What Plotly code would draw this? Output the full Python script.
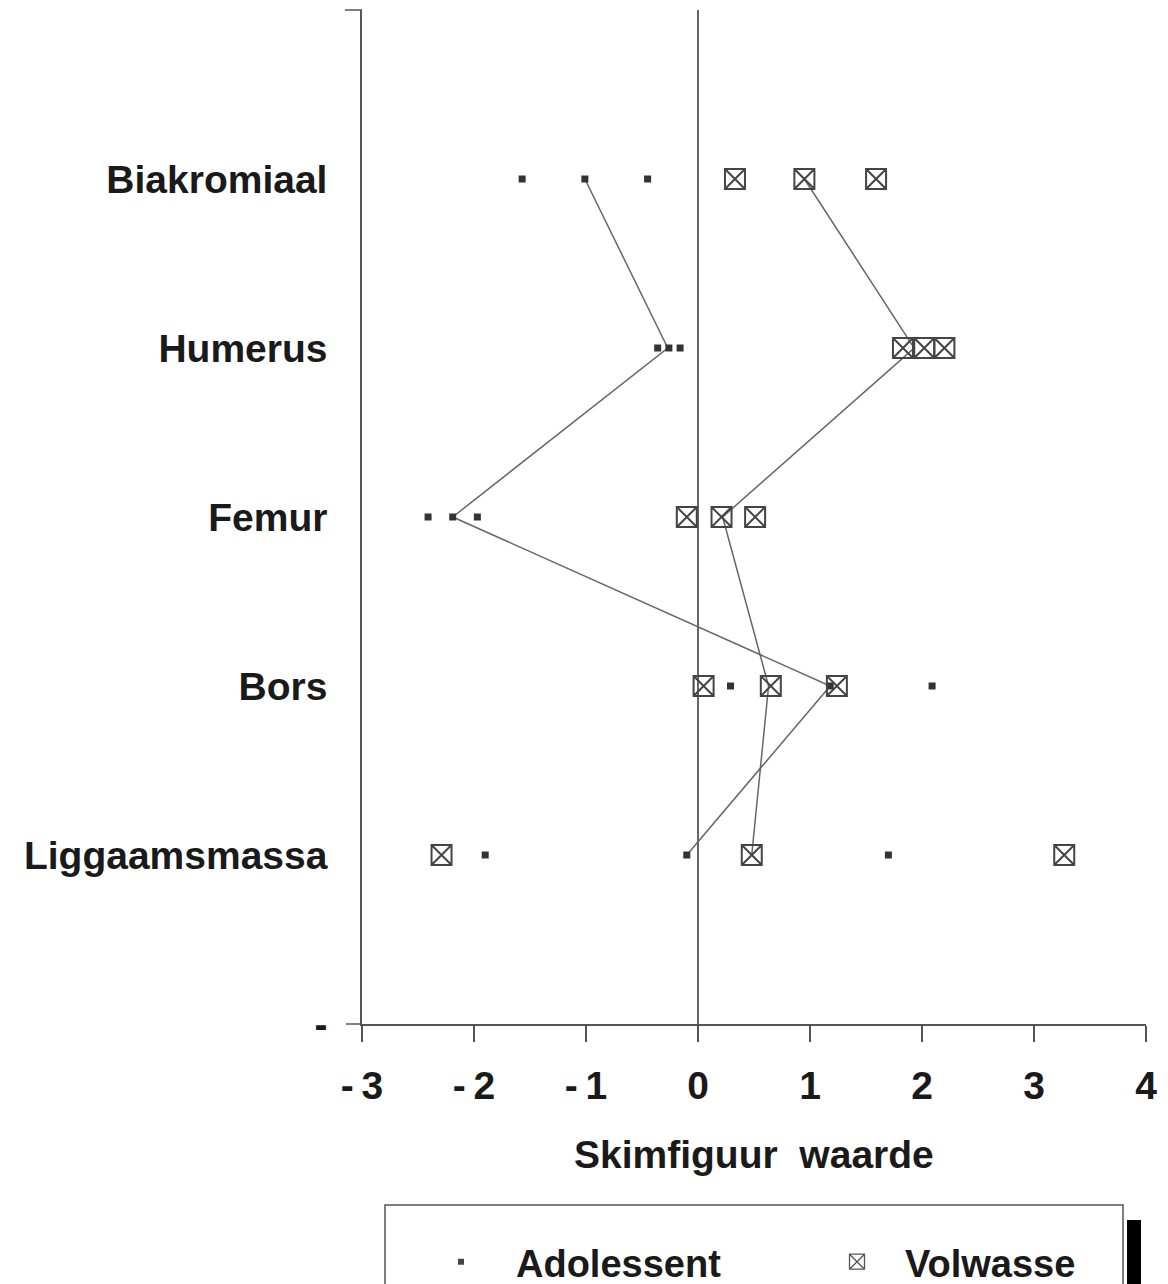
import plotly.graph_objects as go

categories = ["Biakromiaal", "Humerus", "Femur", "Bors", "Liggaamsmassa"]
bottom_label = "-"

adol_low = [-1.57, -0.36, -2.41, 0.29, -1.90]
adol_mid = [-1.01, -0.26, -2.19, 1.18, -0.10]
adol_high = [-0.45, -0.16, -1.97, 2.09, 1.70]
adol_line = [-1.01, -0.27, -2.19, 1.18, -0.10]

volw_low = [0.33, 1.83, -0.10, 0.05, -2.29]
volw_mid = [0.95, 2.02, 0.21, 0.65, 0.48]
volw_high = [1.59, 2.20, 0.51, 1.24, 3.27]
volw_line = [0.95, 1.93, 0.22, 0.63, 0.48]

x_ticks = [-3, -2, -1, 0, 1, 2, 3, 4]
x_ticktext = ["-\u20093", "-\u20092", "-\u20091", "0", "1", "2", "3", "4"]

n = len(categories)
ypos = [n - i for i in range(n)]

FONT = "Liberation Sans, Arial, sans-serif"
AX = "#555555"
LINE = "#666666"

# page offset (body margin) compensation
W, H = 1160, 1276
PL, PT = 354, 2          # plot-area left/top in figure coords
PW, PH = 784, 1014       # plot-area size

def flat(*arrs):
    xs, ys = [], []
    for arr in arrs:
        xs += arr
        ys += ypos
    return xs, ys

fig = go.Figure()

fig.add_trace(go.Scatter(x=adol_line, y=ypos, mode="lines",
                         line=dict(color=LINE, width=1.5), showlegend=False, hoverinfo="skip"))
fig.add_trace(go.Scatter(x=volw_line, y=ypos, mode="lines",
                         line=dict(color=LINE, width=1.5), showlegend=False, hoverinfo="skip"))

ax_, ay_ = flat(adol_low, adol_mid, adol_high)
fig.add_trace(go.Scatter(x=ax_, y=ay_, mode="markers", showlegend=False,
                         marker=dict(symbol="square", size=7, color="#333333")))
vx_, vy_ = flat(volw_low, volw_mid, volw_high)
fig.add_trace(go.Scatter(x=vx_, y=vy_, mode="markers", showlegend=False,
                         marker=dict(symbol="square-x-open", size=20, color="#444444",
                                     line=dict(width=2, color="#444444"))))

# legend entries
fig.add_trace(go.Scatter(x=[None], y=[None], mode="markers", name="Adolessent", legend="legend",
                         marker=dict(symbol="square", size=6, color="#444444")))
fig.add_trace(go.Scatter(x=[None], y=[None], mode="markers", name="Volwasse", legend="legend2",
                         marker=dict(symbol="square-x-open", size=15, color="#555555",
                                     line=dict(width=1.3, color="#555555"))))

legfont = dict(family=FONT, size=38, color="#1a1a1a", weight="bold")
axfont = dict(family=FONT, size=39, color="#1a1a1a", weight="bold")

leg_y = 1 - (1262 - 8) / H

fig.update_layout(
    width=W, height=H,
    margin=dict(l=PL, r=W - PL - PW, t=PT, b=H - PT - PH, autoexpand=False),
    paper_bgcolor="white", plot_bgcolor="white",
    showlegend=True,
    legend=dict(xref="container", yref="container",
                x=(406 - 8) / W, y=leg_y, xanchor="left", yanchor="middle",
                bgcolor="rgba(0,0,0,0)", font=legfont, itemwidth=100, borderwidth=0),
    legend2=dict(xref="container", yref="container",
                 x=(809 - 8) / W, y=leg_y, xanchor="left", yanchor="middle",
                 bgcolor="rgba(0,0,0,0)", font=legfont, itemwidth=86, borderwidth=0),
    xaxis=dict(range=[-3, 4], tickvals=x_ticks, ticktext=x_ticktext,
               showgrid=False, zeroline=True, zerolinecolor=LINE, zerolinewidth=1.5,
               showline=True, linecolor=AX, linewidth=1.5,
               ticks="outside", ticklen=16, tickwidth=1.5, tickcolor=AX,
               ticklabelstandoff=10, automargin=False,
               tickfont=axfont),
    yaxis=dict(range=[0, n + 1], tickvals=[0] + ypos, ticktext=[bottom_label] + categories,
               showgrid=False, zeroline=False,
               showline=True, linecolor=AX, linewidth=1.5, ticks="",
               ticklabelstandoff=25, automargin=False,
               tickfont=axfont),
    annotations=[dict(text="Skimfiguur\u00a0\u00a0waarde", xref="paper", yref="paper",
                      x=0.5, y=(1024 - 1155) / 1014, xanchor="center", yanchor="middle",
                      showarrow=False, font=axfont)],
    shapes=[
        dict(type="line", xref="x domain", yref="y domain", x0=-17 / PW, x1=0, y0=1, y1=1,
             line=dict(color=AX, width=1.5)),
        dict(type="line", xref="x domain", yref="y domain", x0=-16 / PW, x1=0, y0=0, y1=0,
             line=dict(color=AX, width=1.5)),
        dict(type="rect", xref="paper", yref="paper",
             x0=(385 - 362) / PW, x1=(1123 - 362) / PW,
             y0=(1024 - 1205) / PH, y1=-0.40,
             line=dict(color=AX, width=1.5), fillcolor="rgba(0,0,0,0)"),
        dict(type="rect", xref="paper", yref="paper",
             x0=(1127 - 362) / PW, x1=(1141 - 362) / PW,
             y0=(1024 - 1220) / PH, y1=-0.40,
             line=dict(width=0), fillcolor="black"),
    ],
)

fig.write_html("out.html")
